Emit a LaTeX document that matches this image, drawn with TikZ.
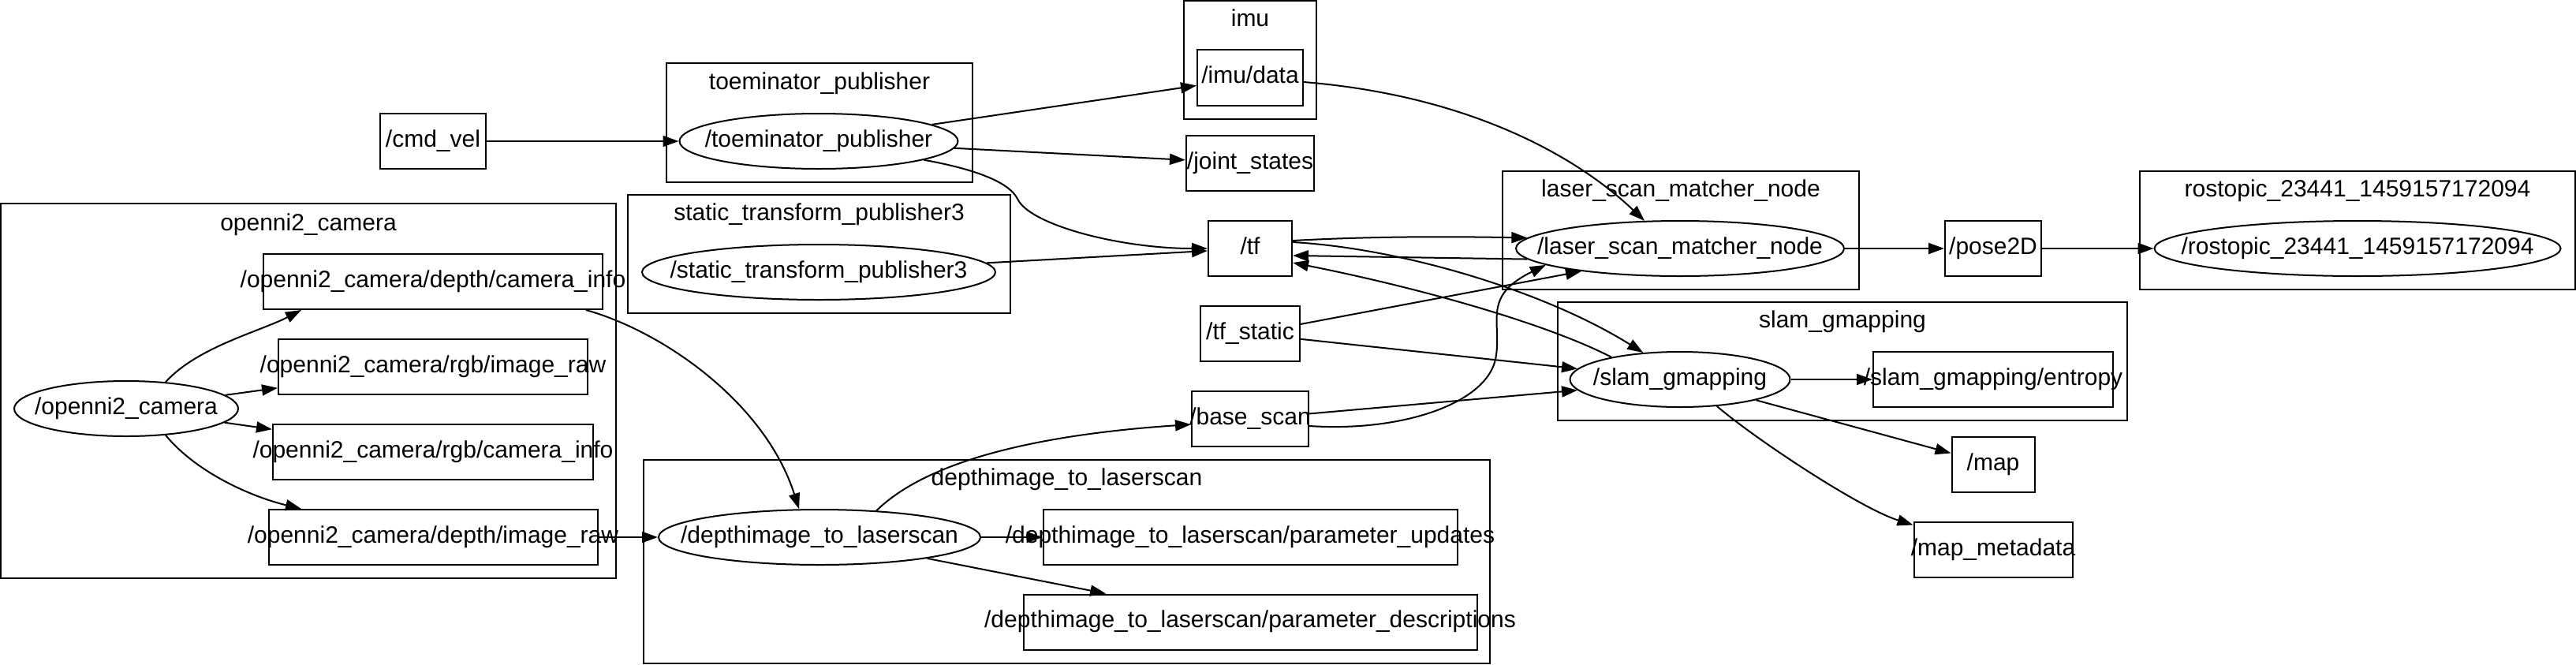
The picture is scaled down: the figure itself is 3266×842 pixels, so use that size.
\documentclass[tikz,border=0pt]{standalone}
\usepackage{fontspec}
\setmainfont{Liberation Sans}
\usetikzlibrary{shapes.geometric,arrows.meta}
\begin{document}
\begin{tikzpicture}[x=0.5pt,y=-0.5pt,
  every node/.style={font=\fontsize{15pt}{18pt}\selectfont, inner sep=0pt, text height=10.5pt, text depth=3.2pt},
  topicbox/.style={draw, line width=1pt, rectangle, minimum height=35pt},
  nodeell/.style={draw, line width=1pt, ellipse, minimum height=35pt},
  clusterbox/.style={draw, line width=1.2pt, rectangle},
  edge/.style={line width=1pt, -{Triangle[length=10pt,width=7pt]}}
]
\useasboundingbox (0,0) rectangle (3266,842);

% clusters
\node[clusterbox, minimum width=390pt, minimum height=237.5pt] (cl_openni) at (391,495.5) {};
\node (lb_openni) at (391,285) {openni2\_camera};
\node[clusterbox, minimum width=194pt, minimum height=75.5pt] (cl_toem) at (1039,155.5) {};
\node (lb_toem) at (1039,106) {toeminator\_publisher};
\node[clusterbox, minimum width=84pt, minimum height=75pt] (cl_imu) at (1585,76) {};
\node (lb_imu) at (1585,26) {imu};
\node[clusterbox, minimum width=242.5pt, minimum height=75pt] (cl_static) at (1038.5,322) {};
\node (lb_static) at (1038.5,272) {static\_transform\_publisher3};
\node[clusterbox, minimum width=536.5pt, minimum height=129pt] (cl_depth) at (1352.5,712) {};
\node (lb_depth) at (1352.5,608) {depthimage\_to\_laserscan};
\node[clusterbox, minimum width=226pt, minimum height=75pt] (cl_laser) at (2131,292) {};
\node (lb_laser) at (2131,242) {laser\_scan\_matcher\_node};
\node[clusterbox, minimum width=361pt, minimum height=75pt] (cl_slam) at (2336,458) {};
\node (lb_slam) at (2336,408) {slam\_gmapping};
\node[clusterbox, minimum width=276pt, minimum height=75pt] (cl_rost) at (2989,292) {};
\node (lb_rost) at (2989,242) {rostopic\_23441\_1459157172094};

% topics and nodes
\node[topicbox, minimum width=67pt] (cmdvel) at (549,179) {\makebox[0pt]{/cmd\_vel}};
\node[topicbox, minimum width=215pt] (dci) at (549,357) {\makebox[0pt]{/openni2\_camera/depth/camera\_info}};
\node[topicbox, minimum width=196pt] (rir) at (549,465) {\makebox[0pt]{/openni2\_camera/rgb/image\_raw}};
\node[topicbox, minimum width=203pt] (rci) at (549,573) {\makebox[0pt]{/openni2\_camera/rgb/camera\_info}};
\node[topicbox, minimum width=208.5pt] (dir) at (549,681) {\makebox[0pt]{/openni2\_camera/depth/image\_raw}};
\node[nodeell, minimum width=142pt] (oni) at (160,518) {\makebox[0pt]{/openni2\_camera}};
\node[topicbox, minimum width=67pt, minimum height=35.5pt] (imudata) at (1585,98.5) {\makebox[0pt]{/imu/data}};
\node[nodeell, minimum width=176.5pt] (tp) at (1038,179) {\makebox[0pt]{/toeminator\_publisher}};
\node[topicbox, minimum width=81pt] (js) at (1585,207) {\makebox[0pt]{/joint\_states}};
\node[nodeell, minimum width=224pt] (stp) at (1038,345) {\makebox[0pt]{/static\_transform\_publisher3}};
\node[topicbox, minimum width=53pt] (tf) at (1585,315) {\makebox[0pt]{/tf}};
\node[topicbox, minimum width=63pt] (tfs) at (1585,423) {\makebox[0pt]{/tf\_static}};
\node[topicbox, minimum width=74pt] (bs) at (1585,531) {\makebox[0pt]{/base\_scan}};
\node[nodeell, minimum width=204pt] (dtl) at (1039,681) {\makebox[0pt]{/depthimage\_to\_laserscan}};
\node[topicbox, minimum width=262.5pt] (pu) at (1585,681) {\makebox[0pt]{/depthimage\_to\_laserscan/parameter\_updates}};
\node[topicbox, minimum width=287.5pt] (pd) at (1585,788.5) {\makebox[0pt]{/depthimage\_to\_laserscan/parameter\_descriptions}};
\node[nodeell, minimum width=208pt] (lsm) at (2130,315) {\makebox[0pt]{/laser\_scan\_matcher\_node}};
\node[topicbox, minimum width=61pt] (pose) at (2527,315) {\makebox[0pt]{/pose2D}};
\node[nodeell, minimum width=139.5pt] (slam) at (2130,481) {\makebox[0pt]{/slam\_gmapping}};
\node[topicbox, minimum width=152pt] (entropy) at (2527,481) {\makebox[0pt]{/slam\_gmapping/entropy}};
\node[topicbox, minimum width=52.5pt] (map) at (2527,589) {\makebox[0pt]{/map}};
\node[topicbox, minimum width=100.5pt] (mm) at (2527,697) {\makebox[0pt]{/map\_metadata}};
\node[nodeell, minimum width=257.5pt] (rost) at (2989,315) {\makebox[0pt]{/rostopic\_23441\_1459157172094}};

% edges
\draw[edge] (cmdvel) -- (tp);
\draw[edge] (tp) -- (imudata);
\draw[edge] (tp) -- (js);
\draw[edge] (tp) .. controls (1240,215) and (1280,232) .. (1290,252) .. controls (1305,285) and (1420,315) .. (tf);
\draw[edge] (stp) -- (tf);
\draw[edge] (imudata) .. controls (1850,120) and (1990,190) .. (lsm.142);
\draw[edge] ([yshift=5pt]tf.east) .. controls (1750,299) and (1850,300) .. (lsm.176);
\draw[edge] (lsm.184) -- ([yshift=-4.5pt]tf.east);
\draw[edge] (slam.162) .. controls (1960,410) and (1800,365) .. ([yshift=-9pt]tf.east);
\draw[edge] ([yshift=4pt]tf.east) .. controls (1780,315) and (1960,370) .. (slam.144);
\draw[edge] (tfs) -- (lsm.193);
\draw[edge] (tfs) -- (slam.174);
\draw[edge] (bs) -- (slam.186);
\draw[edge] ([yshift=-4.5pt]bs.east) .. controls (1780,548) and (1890,510) .. (1897,450) .. controls (1903,405) and (1880,375) .. (lsm.187);
\draw[edge] (lsm) -- (pose);
\draw[edge] (pose) -- (rost);
\draw[edge] (slam) -- (entropy);
\draw[edge] (slam) -- (map);
\draw[edge] (slam.-36) .. controls (2230,560) and (2360,645) .. (mm);
\draw[edge] (oni.34) .. controls (250,440) and (330,420) .. ([xshift=-83.5pt]dci.south);
\draw[edge] (oni) -- (rir);
\draw[edge] (oni) -- (rci);
\draw[edge] (oni.-34) .. controls (250,600) and (320,630) .. ([xshift=-83.5pt]dir.north);
\draw[edge] ([xshift=97pt]dci.south) .. controls (840,420) and (970,510) .. (dtl.126);
\draw[edge] (dir) -- (dtl);
\draw[edge] (dtl.25) .. controls (1180,580) and (1330,550) .. ([yshift=-3.5pt]bs.west);
\draw[edge] (dtl) -- (pu);
\draw[edge] (dtl) -- (pd);
\end{tikzpicture}
\end{document}
